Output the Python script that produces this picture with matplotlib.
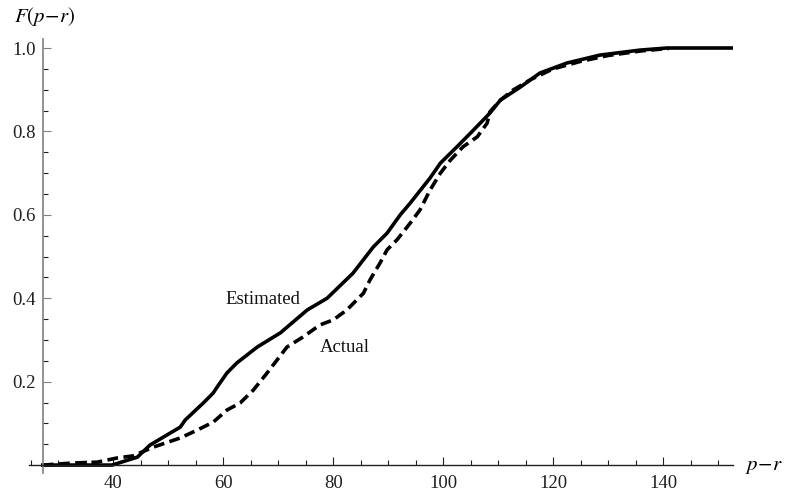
import numpy as np
import matplotlib.pyplot as plt
from matplotlib.ticker import MultipleLocator

plt.rcParams['font.family'] = 'Liberation Serif'
plt.rcParams['mathtext.fontset'] = 'stix'

# estimated distribution (solid)
est_x = [27.2, 39.8, 44.4, 46.7, 50.4, 52.2, 53.1, 56.4, 58.2, 58.9, 60.7, 62.5,
         66.2, 70.4, 75.3, 78.9, 83.6, 87.3, 89.8, 92.2, 94.0, 97.6, 99.5, 102.5,
         105.5, 108.5, 110.4, 114.0, 117.6, 122.5, 128.5, 135.8, 140.7, 152.7]
est_y = [0.0, 0.0, 0.019, 0.048, 0.077, 0.091, 0.108, 0.149, 0.173, 0.187, 0.221, 0.245,
         0.283, 0.317, 0.372, 0.400, 0.460, 0.523, 0.556, 0.600, 0.628, 0.688, 0.724, 0.763,
         0.803, 0.844, 0.875, 0.906, 0.940, 0.964, 0.983, 0.995, 1.0, 1.0]

# actual distribution (dashed)
act_x = [27.2, 32.7, 37.1, 40.7, 43.6, 47.3, 52.2, 55.3, 58.2, 60.7, 63.1, 65.5,
         68.0, 69.8, 71.6, 74.5, 77.6, 80.0, 82.5, 85.5, 86.7, 88.5, 89.8, 91.6,
         94.0, 95.8, 97.6, 99.5, 101.3, 103.6, 106.2, 108.0, 108.5, 110.4, 112.7,
         116.0, 120.0, 125.0, 130.0, 136.0, 141.0]
act_y = [0.0, 0.005, 0.007, 0.017, 0.022, 0.043, 0.065, 0.084, 0.103, 0.132, 0.149, 0.180,
         0.221, 0.252, 0.283, 0.307, 0.336, 0.348, 0.372, 0.412, 0.444, 0.484, 0.516, 0.540,
         0.580, 0.612, 0.659, 0.700, 0.731, 0.763, 0.787, 0.820, 0.847, 0.875, 0.899,
         0.925, 0.950, 0.968, 0.982, 0.993, 0.999]

fig = plt.figure(figsize=(7.85, 4.95), dpi=100)
ax = fig.add_axes([29/785, 22/495, 704/785, 434/495])

ax.plot(est_x, est_y, color='black', lw=2.6, solid_joinstyle='round')
ax.plot(act_x, act_y, color='black', lw=2.6, ls=(0, (3.0, 1.5)))

ax.set_xlim(24.7, 152.7)
ax.set_ylim(-0.019, 1.0216)

for s in ['top', 'right']:
    ax.spines[s].set_visible(False)
ax.spines['left'].set_position(('data', 27.2))
ax.spines['bottom'].set_position(('data', 0))
ax.spines['left'].set_color('#808080')
ax.spines['bottom'].set_color('#202020')
ax.spines['left'].set_linewidth(1.2)
ax.spines['bottom'].set_linewidth(1.0)

ax.xaxis.set_minor_locator(MultipleLocator(5))
ax.yaxis.set_minor_locator(MultipleLocator(0.05))
ax.set_xticks([40, 60, 80, 100, 120, 140])
ax.set_xticklabels(['40', '60', '80', '100', '120', '140'])
ax.set_yticks([0.2, 0.4, 0.6, 0.8, 1.0])
ax.set_yticklabels(['0.2', '0.4', '0.6', '0.8', '1.0'])

ax.tick_params(which='both', direction='in', colors='#202020', labelsize=13.5)
ax.tick_params(axis='x', which='major', length=6, width=0.8, pad=7)
ax.tick_params(axis='x', which='minor', length=3.5, width=0.8)
ax.tick_params(axis='y', which='major', length=6, width=0.8, pad=5)
ax.tick_params(axis='y', which='minor', length=3.5, width=0.8)
ax.tick_params(axis='y', colors='#808080', labelcolor='#202020')

ax.text(67.2, 0.398, 'Estimated', ha='center', va='center', fontsize=13.5, color='#111111')
ax.text(82.2, 0.281, 'Actual', ha='center', va='center', fontsize=13.5, color='#111111')

fig.text(14/785, 1 - 17/495, r'$F(p\!-\!r)$', ha='left', va='center', fontsize=15)
fig.text(745/785, 1 - 467/495, r'$p\!-\!r$', ha='left', va='center', fontsize=15)

fig.savefig('out.png', dpi=100)
